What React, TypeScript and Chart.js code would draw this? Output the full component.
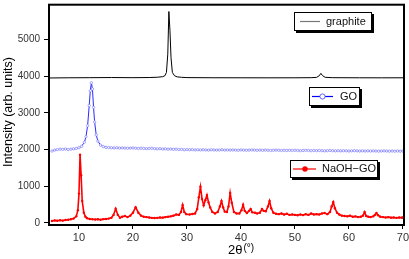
import React, { useEffect, useRef } from "react";
import { Chart, registerables } from "chart.js";
Chart.register(...registerables);

const FONT = "'Liberation Sans', Arial, sans-serif";

const xTicks = [10, 20, 30, 40, 50, 60, 70];
const yTicks = [0, 1000, 2000, 3000, 4000, 5000];

const seriesNames = ["graphite", "GO", "NaOH\u2212GO"];

const graphiteX = [4.5, 8, 12, 16, 20, 23, 24.5, 25.5, 25.9, 26.2, 26.45, 26.65, 26.85, 27.05, 27.3, 27.7, 28.2, 29, 30, 35, 40, 45, 50, 53, 54, 54.5, 54.8, 55.1, 55.6, 57, 62, 66, 70.2];
const graphiteY = [3950, 3955, 3958, 3962, 3958, 3962, 3970, 3985, 4010, 4100, 4600, 5760, 5250, 4500, 4100, 4010, 3980, 3968, 3960, 3956, 3955, 3954, 3955, 3958, 3966, 4010, 4075, 4015, 3968, 3958, 3955, 3954, 3955];

const goX = [5, 5.5, 6, 6.5, 7, 7.5, 8, 8.5, 9, 9.5, 10, 10.5, 11, 11.3, 11.6, 11.9, 12.1, 12.3, 12.5, 12.7, 12.9, 13.2, 13.5, 14, 14.5, 15,
  15.5, 16, 16.5, 17, 17.5, 18, 18.5, 19, 19.5, 20, 20.5, 21, 21.5, 22, 22.5, 23, 23.5, 24, 24.5, 25, 25.5, 26, 26.5, 27, 27.5, 28, 28.5, 29, 29.5, 30,
  30.5, 31, 31.5, 32, 32.5, 33, 33.5, 34, 34.5, 35, 35.5, 36, 36.5, 37, 37.5, 38, 38.5, 39, 39.5, 40, 40.5, 41, 41.5, 42, 42.5, 43, 43.5, 44, 44.5, 45,
  45.5, 46, 46.5, 47, 47.5, 48, 48.5, 49, 49.5, 50, 50.5, 51, 51.5, 52, 52.5, 53, 53.5, 54, 54.5, 55, 55.5, 56, 56.5, 57, 57.5, 58, 58.5, 59, 59.5, 60,
  60.5, 61, 61.5, 62, 62.5, 63, 63.5, 64, 64.5, 65, 65.5, 66, 66.5, 67, 67.5, 68, 68.5, 69, 69.5, 70];
const goY = [1960, 1985, 2000, 2010, 2005, 2015, 2000, 2010, 2020, 2030, 2050, 2090, 2200, 2350, 2650, 3200, 3600, 3820, 3650, 3150, 2750, 2400, 2230, 2120, 2080, 2060,
  2055, 2050, 2045, 2050, 2040, 2045, 2040, 2035, 2040, 2045, 2035, 2030, 2035, 2030, 2025, 2030, 2035, 2025, 2020, 2025, 2015, 2020, 2010, 2015, 2005, 2010, 2000, 2005, 1995, 2000,
  1995, 2000, 1990, 1995, 1990, 1995, 1990, 1985, 1995, 1990, 1985, 1990, 1995, 1985, 1990, 1985, 1990, 1985, 1980, 1990, 1985, 1980, 1985, 1990, 1985, 1980, 1985, 1980, 1985, 1980,
  1975, 1980, 1985, 1980, 1975, 1980, 1975, 1980, 1975, 1980, 1975, 1970, 1975, 1980, 1975, 1970, 1975, 1970, 1975, 1970, 1965, 1970, 1975, 1970, 1965, 1970, 1965, 1970, 1965, 1960,
  1965, 1970, 1965, 1960, 1965, 1960, 1965, 1960, 1965, 1960, 1955, 1960, 1965, 1960, 1955, 1960, 1955, 1960, 1955, 1960];

const naohX = [5, 5.5, 6, 6.5, 7, 7.5, 8, 8.5, 9, 9.5, 9.8, 10, 10.2, 10.4, 10.6, 10.9, 11.2, 11.5, 12, 12.5, 13, 13.5, 14, 14.5, 15, 15.5, 16, 16.4, 16.8, 17.2, 17.6,
  18, 18.5, 19, 19.5, 20, 20.5, 21, 21.5, 22, 22.5, 23, 23.5, 24, 24.5, 25, 25.5, 26, 26.5, 27, 27.5, 28, 28.5, 28.9, 29.2, 29.5, 29.9, 30.5, 31, 31.5, 31.9,
  32.2, 32.5, 32.8, 33.1, 33.4, 33.7, 34, 34.3, 34.7, 35.2, 35.7, 36.1, 36.4, 36.7, 37, 37.4, 37.7, 38, 38.3, 38.7, 39.2, 39.7, 40.1, 40.4, 40.7, 41.1, 41.5,
  41.8, 42.1, 42.6, 43, 43.5, 43.9, 44.2, 44.6, 45, 45.3, 45.6, 46, 46.5, 47, 47.5, 48, 48.5, 49, 49.5, 50, 50.5, 51, 51.5, 52, 52.5, 53, 53.5, 54, 54.5,
  55, 55.5, 56, 56.5, 56.8, 57.1, 57.4, 57.8, 58.2, 58.7, 59.2, 59.7, 60.2, 60.7, 61.2, 61.7, 62.2, 62.6, 62.9, 63.2, 63.6, 64, 64.5, 64.8, 65.1, 65.4, 65.8,
  66.3, 66.8, 67.3, 67.8, 68.3, 68.8, 69.3, 69.8, 70];
const naohY = [55, 70, 60, 75, 65, 80, 90, 100, 120, 180, 350, 800, 1860, 1300, 600, 280, 170, 130, 110, 100, 95, 100, 90, 105, 110, 120, 140, 220, 390, 220, 140,
  170, 190, 160, 200, 280, 430, 280, 200, 170, 160, 150, 140, 135, 140, 150, 145, 160, 170, 180, 200, 230, 220, 300, 490, 300, 240, 230, 245, 260, 380,
  700, 990, 650, 480, 620, 760, 560, 420, 300, 260, 300, 450, 600, 420, 310, 300, 450, 820, 550, 300, 260, 260, 350, 500, 330, 270, 330,
  380, 290, 280, 260, 280, 380, 330, 320, 450, 600, 400, 280, 250, 240, 260, 230, 250, 220, 230, 220, 210, 230, 215, 240, 220, 260, 230, 240, 230,
  260, 270, 240, 300, 450, 570, 400, 280, 230, 200, 190, 180, 200, 170, 180, 160, 170, 200, 300, 190, 170, 160, 180, 220, 270, 210, 170,
  160, 150, 160, 145, 150, 140, 150, 145, 150];

const toPts = (xs: number[], ys: number[]) => xs.map((x, i) => ({ x, y: ys[i] }));

function box(ctx: CanvasRenderingContext2D, x: number, y: number, w: number, h: number) {
  ctx.fillStyle = "#000";
  ctx.fillRect(x + 2, y + 2, w, h);
  ctx.fillStyle = "#fff";
  ctx.fillRect(x, y, w, h);
  ctx.strokeStyle = "#000";
  ctx.lineWidth = 1;
  ctx.strokeRect(x + 0.5, y + 0.5, w - 1, h - 1);
}

const decor = {
  id: "decor",
  afterDraw(chart: any) {
    const ctx: CanvasRenderingContext2D = chart.ctx;
    const a = chart.chartArea;
    ctx.save();
    ctx.strokeStyle = "#000";
    ctx.lineWidth = 2;
    ctx.strokeRect(a.left, a.top, a.right - a.left, a.bottom - a.top);

    ctx.font = `11px ${FONT}`;
    ctx.textBaseline = "middle";
    ctx.textAlign = "left";

    box(ctx, 294, 12, 78, 19);
    ctx.strokeStyle = "#777";
    ctx.lineWidth = 1.2;
    ctx.beginPath(); ctx.moveTo(300, 21.5); ctx.lineTo(320, 21.5); ctx.stroke();
    ctx.fillStyle = "#111";
    ctx.fillText(seriesNames[0], 326, 21.5);

    box(ctx, 309, 87, 51, 19);
    ctx.strokeStyle = "#0000ff";
    ctx.lineWidth = 1.2;
    ctx.beginPath(); ctx.moveTo(312, 96.5); ctx.lineTo(333, 96.5); ctx.stroke();
    ctx.fillStyle = "#fff";
    ctx.beginPath(); ctx.arc(322.5, 96.5, 2.6, 0, Math.PI * 2); ctx.fill();
    ctx.strokeStyle = "#4040ff"; ctx.lineWidth = 0.8; ctx.stroke();
    ctx.fillStyle = "#111";
    ctx.fillText(seriesNames[1], 340, 96.5);

    box(ctx, 290, 160, 88, 18);
    ctx.strokeStyle = "#ff0000";
    ctx.lineWidth = 1.2;
    ctx.beginPath(); ctx.moveTo(293, 169); ctx.lineTo(316, 169); ctx.stroke();
    ctx.fillStyle = "#ff0000";
    ctx.beginPath(); ctx.arc(305, 169, 2.7, 0, Math.PI * 2); ctx.fill();
    ctx.fillStyle = "#111";
    ctx.fillText(seriesNames[2], 322, 169);

    ctx.save();
    ctx.translate(8.5, 112);
    ctx.rotate(-Math.PI / 2);
    ctx.textAlign = "center";
    ctx.font = `12.5px ${FONT}`;
    ctx.fillStyle = "#000";
    ctx.fillText("Intensity (arb. units)", 0, 0);
    ctx.restore();

    ctx.textAlign = "left";
    ctx.textBaseline = "alphabetic";
    ctx.font = `13px ${FONT}`;
    ctx.fillStyle = "#000";
    ctx.fillText("2\u03b8", 228, 254);
    const w = ctx.measureText("2\u03b8").width;
    ctx.font = `10px ${FONT}`;
    ctx.fillText("(\u00b0)", 228 + w + 1, 251);
    ctx.restore();
  },
};

export default function App() {
  const ref = useRef<HTMLCanvasElement>(null);
  useEffect(() => {
    const chart = new Chart(ref.current!, {
      type: "line",
      data: {
        datasets: [
          {
            label: seriesNames[0],
            data: toPts(graphiteX, graphiteY),
            borderColor: "#000",
            borderWidth: 1,
            pointRadius: 0,
            tension: 0,
          },
          {
            label: seriesNames[1],
            data: toPts(goX, goY),
            borderColor: "#2a2aff",
            borderWidth: 1,
            pointRadius: 1.2,
            pointBorderWidth: 0.7,
            pointBorderColor: "#8080ff",
            pointBackgroundColor: "#fff",
            tension: 0,
          },
          {
            label: seriesNames[2],
            data: toPts(naohX, naohY),
            borderColor: "#ff0000",
            borderWidth: 1.6,
            pointRadius: 1.2,
            pointBorderWidth: 0,
            pointBackgroundColor: "#ff0000",
            tension: 0,
          },
        ],
      },
      options: {
        animation: false,
        responsive: false,
        events: [],
        layout: { padding: { top: 3, right: 5, left: 0, bottom: 0 } },
        plugins: { legend: { display: false }, tooltip: { enabled: false }, title: { display: false } },
        scales: {
          x: {
            type: "linear",
            min: 4.45,
            max: 70.2,
            afterBuildTicks: (s: any) => { s.ticks = xTicks.map((v) => ({ value: v })); },
            afterFit: (s: any) => { s.height = 34; s.paddingLeft = 0; s.paddingRight = 0; s.paddingTop = 0; s.paddingBottom = 0; },
            grid: { display: true, drawOnChartArea: false, drawTicks: true, tickLength: 4, color: "#000", lineWidth: 1 },
            border: { display: false },
            ticks: { font: { family: FONT, size: 11 }, color: "#333", padding: 2, maxRotation: 0, autoSkip: false, callback: (v: any) => String(v) },
          },
          y: {
            type: "linear",
            min: -55,
            max: 5946,
            afterBuildTicks: (s: any) => { s.ticks = yTicks.map((v) => ({ value: v })); },
            afterFit: (s: any) => { s.width = 49; s.paddingLeft = 0; s.paddingRight = 0; s.paddingTop = 0; s.paddingBottom = 0; },
            grid: { display: true, drawOnChartArea: false, drawTicks: true, tickLength: 5, color: "#000", lineWidth: 1 },
            border: { display: false },
            ticks: { font: { family: FONT, size: 10 }, color: "#333", padding: 4, autoSkip: false, callback: (v: any) => String(v) },
          },
        },
      },
      plugins: [decor],
    } as any);
    return () => chart.destroy();
  }, []);
  return (
    <div style={{ position: "absolute", left: 0, top: 0, width: 409, height: 259, background: "#fff" }}>
      <canvas ref={ref} width={409} height={259} style={{ display: "block", width: 409, height: 259 }} />
    </div>
  );
}
